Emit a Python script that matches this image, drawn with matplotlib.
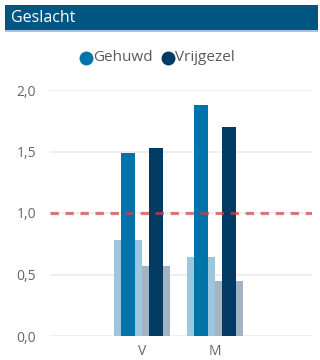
import matplotlib
matplotlib.use("Agg")
import matplotlib.pyplot as plt
from matplotlib.patches import Rectangle
import numpy as np

plt.rcParams['font.family'] = ['Open Sans', 'DejaVu Sans']

# Data
categories = ["V", "M"]
series = ["Gehuwd", "Vrijgezel"]
main_gehuwd = [1.49, 1.88]
main_vrijgezel = [1.53, 1.70]
back_gehuwd = [0.78, 0.645]
back_vrijgezel = [0.57, 0.45]
reference_value = 1.0
yticks = [0.0, 0.5, 1.0, 1.5, 2.0]
ytick_labels = ["0,0", "0,5", "1,0", "1,5", "2,0"]

col_gehuwd = "#0073ab"
col_vrijgezel = "#013a63"
col_gehuwd_light = "#9cc7df"
col_vrijgezel_light = "#a3b3c2"

W, H = 320, 360
fig = plt.figure(figsize=(W / 100, H / 100), dpi=100)

# Title bar
fig.patches.append(Rectangle((5 / W, 1 - 30 / H), 313 / W, 25 / H,
                             transform=fig.transFigure, facecolor="#005683",
                             edgecolor="none", zorder=0))
fig.patches.append(Rectangle((5 / W, 1 - 31.5 / H), 313 / W, 1.5 / H,
                             transform=fig.transFigure, facecolor="#a9c6da",
                             edgecolor="none", zorder=0))
fig.text(11 / W, 1 - 17.5 / H, "Geslacht", color="white", fontsize=11.5,
         va="center", ha="left")

# Plot area
ax = fig.add_axes([50 / W, (H - 336) / H, 262 / W, 246 / H])
x = np.arange(len(categories))
xl = -1.26
ax.set_xlim(xl, xl + 262 / 73)
ax.set_ylim(0, 2.0)

lw = 0.38
dw = 0.19
off = 0.19
ax.bar(x - off, back_gehuwd, width=lw, color=col_gehuwd_light, zorder=2)
ax.bar(x + off, back_vrijgezel, width=lw, color=col_vrijgezel_light, zorder=2)
ax.bar(x - off, main_gehuwd, width=dw, color=col_gehuwd, zorder=3)
ax.bar(x + off, main_vrijgezel, width=dw, color=col_vrijgezel, zorder=3)

ax.axhline(reference_value, color="#cc4444", alpha=0.7, lw=2.3,
           linestyle=(0, (2.6, 2.1)), zorder=4)

ax.set_yticks(yticks)
ax.set_yticklabels(ytick_labels)
ax.set_xticks(x)
ax.set_xticklabels(categories)
ax.grid(axis="y", color="#ebebeb", lw=1.2, zorder=0)
ax.set_axisbelow(True)
for s in ax.spines.values():
    s.set_visible(False)
ax.tick_params(axis="both", length=0, labelsize=10, colors="#666666")
ax.tick_params(axis="y", pad=10)
ax.tick_params(axis="x", pad=6)

# Legend
lx = [86, 168]
for xi, name, c in zip(lx, series, [col_gehuwd, col_vrijgezel]):
    fig.lines.append(plt.Line2D([xi / W], [1 - 57.5 / H], marker="o",
                                markersize=9, color=c, linestyle="none",
                                transform=fig.transFigure))
    fig.text((xi + 7) / W, 1 - 57.5 / H, name, color="#5a5a5a", fontsize=11,
             va="center", ha="left")

fig.savefig("out.png", dpi=100, facecolor="white")
